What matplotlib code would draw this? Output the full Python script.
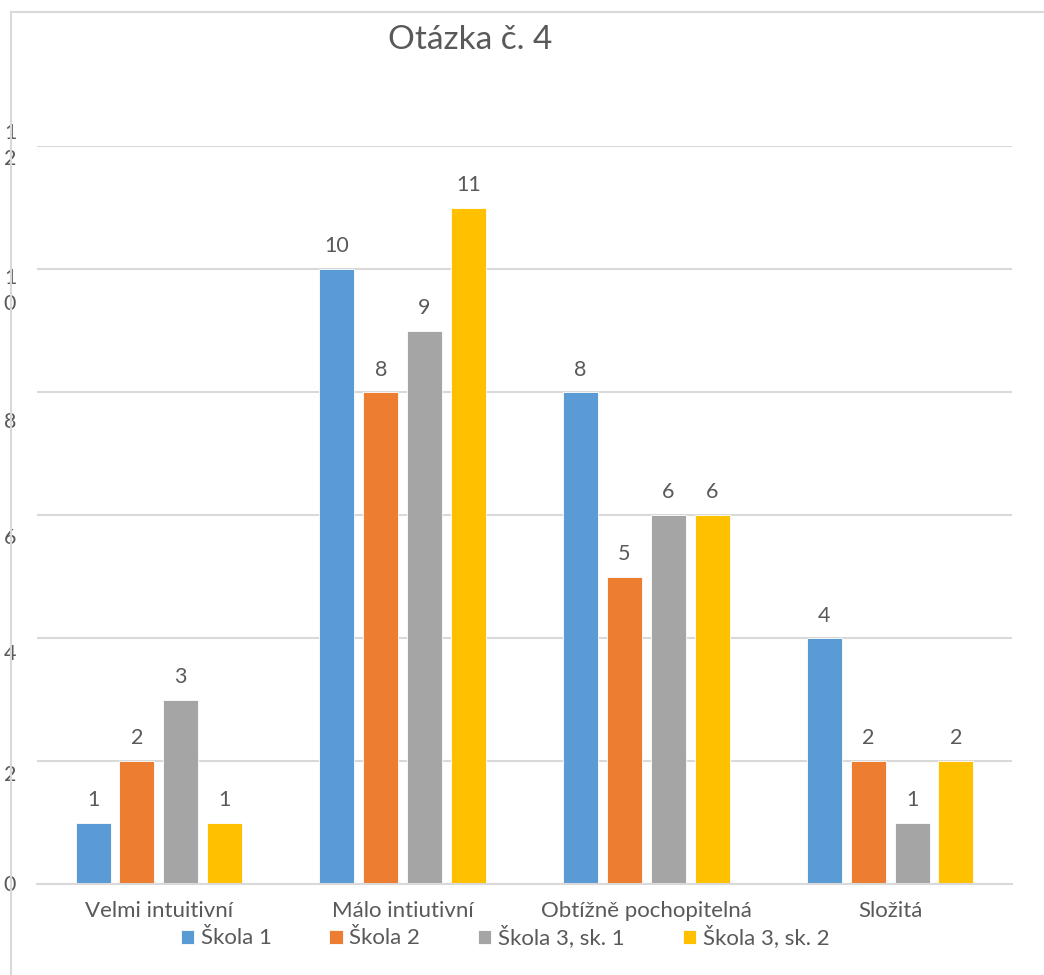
import matplotlib
matplotlib.use("Agg")
import matplotlib.pyplot as plt
import numpy as np
from matplotlib.lines import Line2D
from matplotlib.transforms import blended_transform_factory, ScaledTranslation

plt.rcParams['font.family'] = ['Lato', 'DejaVu Sans']

categories = ["Velmi intuitivní", "Málo intiutivní", "Obtížně pochopitelná", "Složitá"]
series_names = ["Škola 1", "Škola 2", "Škola 3, sk. 1", "Škola 3, sk. 2"]
skola1 = [1, 10, 8, 4]
skola2 = [2, 8, 5, 2]
skola3_sk1 = [3, 9, 6, 1]
skola3_sk2 = [1, 11, 6, 2]
yticks = [0, 2, 4, 6, 8, 10, 12]
ytick_labels = ["0", "2", "4", "6", "8", "1\n0", "1\n2"]
title = "Otázka č. 4"

colors = ["#5B9BD5", "#ED7D31", "#A5A5A5", "#FFC000"]
text_color = "#595959"
grid_color = "#D9D9D9"

W, H = 1044, 975
fig = plt.figure(figsize=(W / 100, H / 100), dpi=100)
ax = fig.add_axes([37 / W, 1 - 884 / H, (1012 - 37) / W, (884 - 146) / H])

x = np.arange(len(categories))
width = 0.144
step = 0.18
offsets = [-1.5 * step, -0.5 * step, 0.5 * step, 1.5 * step]
all_series = [skola1, skola2, skola3_sk1, skola3_sk2]
for vals, name, c, off in zip(all_series, series_names, colors, offsets):
    bars = ax.bar(x + off, vals, width, color=c, label=name, edgecolor="white", linewidth=0.6, zorder=3)
    ax.bar_label(bars, padding=9, fontsize=15.5, color=text_color)

ax.set_xlim(-0.5, 3.5)
ax.set_ylim(0, 12)
ax.set_yticks(yticks)
ax.set_yticklabels([])
ax.tick_params(axis="y", length=0)

# y tick labels drawn as text (Excel-like wrapped labels, slightly shifted down)
label_shift_px = [1, 14, 16, 23, 30, 22, 0]
ytrans = blended_transform_factory(fig.transFigure, ax.transData)
for val, lab, dy in zip(yticks, ytick_labels, label_shift_px):
    ax.text(10 / W, val, lab, transform=ytrans + ScaledTranslation(0, -dy / 100, fig.dpi_scale_trans),
            ha="center", va="center", fontsize=15.5, color=text_color, linespacing=1.35)

ax.set_xticks(x)
ax.set_xticklabels(categories, fontsize=16, color=text_color)
ax.tick_params(axis="x", length=0, pad=12)
ax.grid(axis="y", color=grid_color, linewidth=1.5, zorder=0)
for s in ["top", "right", "left"]:
    ax.spines[s].set_visible(False)
ax.spines["bottom"].set_color(grid_color)
ax.spines["bottom"].set_linewidth(1.5)
ax.spines["bottom"].set_zorder(4)

fig.text(470 / W, 1 - 40 / H, title, fontsize=24, color=text_color, ha="center", va="center")

handles, labels = ax.get_legend_handles_labels()
fig.legend(handles, labels, loc="center", bbox_to_anchor=(505 / W, 1 - 937 / H), ncol=4,
           frameon=False, fontsize=16, labelcolor=text_color, handlelength=0.6, handleheight=0.6,
           handletextpad=0.3, columnspacing=2.6, borderaxespad=0, borderpad=0)

# outer chart border (left and top visible)
fig.add_artist(Line2D([11 / W, 11 / W], [0, 1 - 12 / H], transform=fig.transFigure, color=grid_color, linewidth=1.5))
fig.add_artist(Line2D([11 / W, 1], [1 - 12 / H, 1 - 12 / H], transform=fig.transFigure, color=grid_color, linewidth=1.5))

fig.savefig("out.png", dpi=100)
